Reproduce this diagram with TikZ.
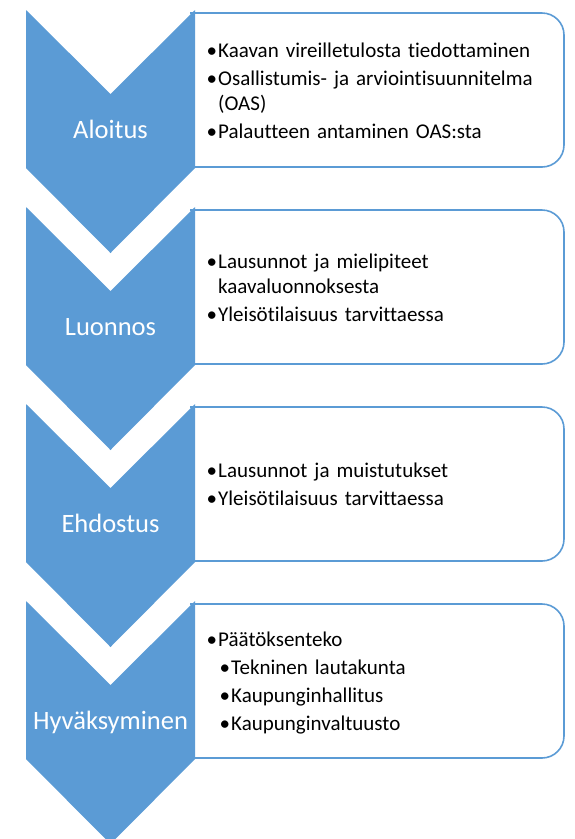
\documentclass[tikz,border=0pt]{standalone}
\usepackage{fontspec}
\setmainfont{Carlito}[Ligatures={NoCommon}]
\definecolor{chev}{HTML}{5B9BD5}
\newcommand{\bitemA}[1]{\par\setlength{\parskip}{3pt}\setlength{\leftskip}{13pt}\noindent\llap{\textbullet\hspace{1.2pt}}#1\par}
\newcommand{\bitemB}[1]{\par\setlength{\parskip}{3pt}\setlength{\leftskip}{26pt}\noindent\llap{\textbullet\hspace{1.2pt}}#1\par}
\tikzset{
  chevron/.style={fill=chev, draw=none},
  infobox/.style={draw=chev, line width=1.6pt, rounded corners=22pt},
  chevlabel/.style={text=white, font=\fontsize{26.5}{32}\selectfont, anchor=base, inner sep=0pt},
  boxtext/.style={anchor=west, inner sep=0pt, text width=345pt, align=left,
    font=\fontsize{21}{25}\selectfont},
}
\begin{document}
\begin{tikzpicture}[x=1pt, y=-1pt]
\useasboundingbox (0,0) rectangle (574,839);
\clip (0,0) rectangle (574,839);
% boxes
\draw[infobox] (190,13) -- (564,13) -- (564,167) -- (190,167);
\draw[infobox] (190,210) -- (564,210) -- (564,364) -- (190,364);
\draw[infobox] (190,407) -- (564,407) -- (564,561) -- (190,561);
\draw[infobox] (190,604) -- (564,604) -- (564,758) -- (190,758);
% chevrons
\fill[chevron] (26,10) -- (110.5,94) -- (195,10) -- (195,168) -- (110.5,253) -- (26,168) -- cycle;
\fill[chevron] (26,207) -- (110.5,291) -- (195,207) -- (195,365) -- (110.5,450) -- (26,365) -- cycle;
\fill[chevron] (26,404) -- (110.5,488) -- (195,404) -- (195,562) -- (110.5,647) -- (26,562) -- cycle;
\fill[chevron] (26,601) -- (110.5,685) -- (195,601) -- (195,759) -- (110.5,844) -- (26,759) -- cycle;
% labels
\node[chevlabel] (l1) at (110.5,138.5) {Aloitus};
\node[chevlabel] (l2) at (110.5,335.5) {Luonnos};
\node[chevlabel] (l3) at (110.5,532.5) {Ehdostus};
\node[chevlabel] (l4) at (110.5,729.5) {Hyväksyminen};
% texts
\node[boxtext] (t1) at (205,84) {\bitemA{Kaavan vireilletulosta tiedottaminen}\bitemA{Osallistumis- ja arviointisuunnitelma\newline (OAS)}\bitemA{Palautteen antaminen OAS:sta}};
\node[boxtext] (t2) at (205,281) {\bitemA{Lausunnot ja mielipiteet\newline kaavaluonnoksesta}\bitemA{Yleisötilaisuus tarvittaessa}};
\node[boxtext] (t3) at (205,478) {\bitemA{Lausunnot ja muistutukset}\bitemA{Yleisötilaisuus tarvittaessa}};
\node[boxtext] (t4) at (205,676) {\bitemA{Päätöksenteko}\bitemB{Tekninen lautakunta}\bitemB{Kaupunginhallitus}\bitemB{Kaupunginvaltuusto}};
\end{tikzpicture}
\end{document}
